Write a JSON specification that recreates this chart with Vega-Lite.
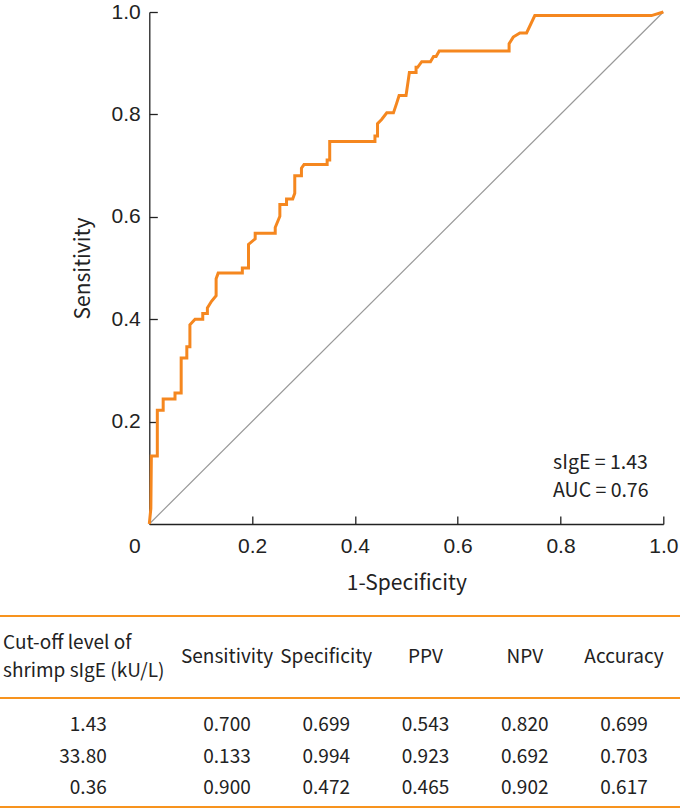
{
  "$schema": "https://vega.github.io/schema/vega-lite/v6.json",
  "width": 514,
  "height": 512,
  "autosize": "none",
  "padding": {"left": 149.3, "top": 12, "right": 16.7, "bottom": 286},
  "config": {"view": {"stroke": null}, "font": "Noto Sans CJK KR"},
  "datasets": {
    "roc": [
      {"k": 0, "fpr": 0.0, "tpr": 0.0},
      {"k": 1, "fpr": 0.003, "tpr": 0.03},
      {"k": 2, "fpr": 0.004, "tpr": 0.133},
      {"k": 3, "fpr": 0.0156, "tpr": 0.133},
      {"k": 4, "fpr": 0.0156, "tpr": 0.222},
      {"k": 5, "fpr": 0.027, "tpr": 0.222},
      {"k": 6, "fpr": 0.027, "tpr": 0.244},
      {"k": 7, "fpr": 0.05, "tpr": 0.244},
      {"k": 8, "fpr": 0.05, "tpr": 0.256},
      {"k": 9, "fpr": 0.062, "tpr": 0.256},
      {"k": 10, "fpr": 0.062, "tpr": 0.324},
      {"k": 11, "fpr": 0.073, "tpr": 0.324},
      {"k": 12, "fpr": 0.073, "tpr": 0.346},
      {"k": 13, "fpr": 0.079, "tpr": 0.346},
      {"k": 14, "fpr": 0.079, "tpr": 0.389},
      {"k": 15, "fpr": 0.089, "tpr": 0.4},
      {"k": 16, "fpr": 0.104, "tpr": 0.4},
      {"k": 17, "fpr": 0.104, "tpr": 0.411},
      {"k": 18, "fpr": 0.113, "tpr": 0.411},
      {"k": 19, "fpr": 0.113, "tpr": 0.422},
      {"k": 20, "fpr": 0.121, "tpr": 0.435},
      {"k": 21, "fpr": 0.13, "tpr": 0.446},
      {"k": 22, "fpr": 0.13, "tpr": 0.479},
      {"k": 23, "fpr": 0.134, "tpr": 0.49},
      {"k": 24, "fpr": 0.181, "tpr": 0.49},
      {"k": 25, "fpr": 0.181, "tpr": 0.5},
      {"k": 26, "fpr": 0.193, "tpr": 0.5},
      {"k": 27, "fpr": 0.193, "tpr": 0.546},
      {"k": 28, "fpr": 0.206, "tpr": 0.557},
      {"k": 29, "fpr": 0.206, "tpr": 0.568},
      {"k": 30, "fpr": 0.245, "tpr": 0.568},
      {"k": 31, "fpr": 0.245, "tpr": 0.579},
      {"k": 32, "fpr": 0.254, "tpr": 0.601},
      {"k": 33, "fpr": 0.254, "tpr": 0.624},
      {"k": 34, "fpr": 0.267, "tpr": 0.624},
      {"k": 35, "fpr": 0.267, "tpr": 0.635},
      {"k": 36, "fpr": 0.279, "tpr": 0.635},
      {"k": 37, "fpr": 0.283, "tpr": 0.646},
      {"k": 38, "fpr": 0.283, "tpr": 0.68},
      {"k": 39, "fpr": 0.296, "tpr": 0.68},
      {"k": 40, "fpr": 0.296, "tpr": 0.695},
      {"k": 41, "fpr": 0.301, "tpr": 0.702},
      {"k": 42, "fpr": 0.346, "tpr": 0.702},
      {"k": 43, "fpr": 0.346, "tpr": 0.711},
      {"k": 44, "fpr": 0.351, "tpr": 0.711},
      {"k": 45, "fpr": 0.351, "tpr": 0.747},
      {"k": 46, "fpr": 0.439, "tpr": 0.747},
      {"k": 47, "fpr": 0.439, "tpr": 0.758},
      {"k": 48, "fpr": 0.444, "tpr": 0.758},
      {"k": 49, "fpr": 0.444, "tpr": 0.782},
      {"k": 50, "fpr": 0.452, "tpr": 0.79},
      {"k": 51, "fpr": 0.462, "tpr": 0.803},
      {"k": 52, "fpr": 0.475, "tpr": 0.803},
      {"k": 53, "fpr": 0.481, "tpr": 0.821},
      {"k": 54, "fpr": 0.486, "tpr": 0.837},
      {"k": 55, "fpr": 0.4995, "tpr": 0.837},
      {"k": 56, "fpr": 0.506, "tpr": 0.882},
      {"k": 57, "fpr": 0.519, "tpr": 0.882},
      {"k": 58, "fpr": 0.519, "tpr": 0.892},
      {"k": 59, "fpr": 0.522, "tpr": 0.892},
      {"k": 60, "fpr": 0.53, "tpr": 0.903},
      {"k": 61, "fpr": 0.547, "tpr": 0.903},
      {"k": 62, "fpr": 0.553, "tpr": 0.913},
      {"k": 63, "fpr": 0.558, "tpr": 0.913},
      {"k": 64, "fpr": 0.564, "tpr": 0.924},
      {"k": 65, "fpr": 0.7, "tpr": 0.924},
      {"k": 66, "fpr": 0.7, "tpr": 0.938},
      {"k": 67, "fpr": 0.708, "tpr": 0.951},
      {"k": 68, "fpr": 0.721, "tpr": 0.959},
      {"k": 69, "fpr": 0.734, "tpr": 0.959},
      {"k": 70, "fpr": 0.75, "tpr": 0.993},
      {"k": 71, "fpr": 0.977, "tpr": 0.993},
      {"k": 72, "fpr": 1.0, "tpr": 1.0}
    ],
    "notes": [
      {"fpr": 0.7855, "tpr": 0.12, "label": "sIgE = 1.43"},
      {"fpr": 0.7855, "tpr": 0.065, "label": "AUC = 0.76"}
    ],
    "headers": [
      {"col": 0, "label": "Cut-off level of\nshrimp sIgE (kU/L)"},
      {"col": 1, "label": "Sensitivity"},
      {"col": 2, "label": "Specificity"},
      {"col": 3, "label": "PPV"},
      {"col": 4, "label": "NPV"},
      {"col": 5, "label": "Accuracy"}
    ],
    "cells": [
      {"row": 1, "col": 0, "label": "1.43"},
      {"row": 1, "col": 1, "label": "0.700"},
      {"row": 1, "col": 2, "label": "0.699"},
      {"row": 1, "col": 3, "label": "0.543"},
      {"row": 1, "col": 4, "label": "0.820"},
      {"row": 1, "col": 5, "label": "0.699"},
      {"row": 2, "col": 0, "label": "33.80"},
      {"row": 2, "col": 1, "label": "0.133"},
      {"row": 2, "col": 2, "label": "0.994"},
      {"row": 2, "col": 3, "label": "0.923"},
      {"row": 2, "col": 4, "label": "0.692"},
      {"row": 2, "col": 5, "label": "0.703"},
      {"row": 3, "col": 0, "label": "0.36"},
      {"row": 3, "col": 1, "label": "0.900"},
      {"row": 3, "col": 2, "label": "0.472"},
      {"row": 3, "col": 3, "label": "0.465"},
      {"row": 3, "col": 4, "label": "0.902"},
      {"row": 3, "col": 5, "label": "0.617"}
    ]
  },
  "layer": [
    {
      "layer": [
        {
          "data": {"values": [{}]},
          "mark": {"type": "rule", "color": "#999999", "strokeWidth": 1.2},
          "encoding": {
            "x": {"datum": 0, "type": "quantitative"}, "y": {"datum": 0, "type": "quantitative"},
            "x2": {"datum": 1}, "y2": {"datum": 1}
          }
        },
        {
          "data": {"name": "roc"},
          "mark": {"type": "line", "color": "#F5871F", "strokeWidth": 3, "strokeJoin": "miter"},
          "encoding": {
            "x": {
              "field": "fpr", "type": "quantitative",
              "scale": {"domain": [0, 1], "nice": false, "zero": false},
              "axis": {
                "title": "1-Specificity",
                "values": [0, 0.2, 0.4, 0.6, 0.8, 1],
                "labelExpr": "datum.value == 0 ? '0' : format(datum.value, '.1f')",
                "grid": false,
                "domainColor": "#222222", "domainWidth": 1.3,
                "tickColor": "#222222", "tickWidth": 1.3, "tickSize": -8,
                "labelFont": "Liberation Sans", "labelFontSize": 21, "labelColor": "#222222",
                "labelPadding": 19,
                "labelOffset": {"condition": {"test": "datum.value === 0", "value": -15}, "value": 0},
                "labelFlush": false,
                "titleFont": "Noto Sans CJK KR", "titleFontSize": 21, "titleFontWeight": "normal",
                "titleColor": "#222222", "titlePadding": 16
              }
            },
            "y": {
              "field": "tpr", "type": "quantitative",
              "scale": {"domain": [0, 1], "nice": false, "zero": false},
              "axis": {
                "title": "Sensitivity",
                "values": [0.2, 0.4, 0.6, 0.8, 1],
                "format": ".1f",
                "grid": false,
                "domainColor": "#222222", "domainWidth": 1.3,
                "tickColor": "#222222", "tickWidth": 1.3, "tickSize": -8,
                "labelFont": "Liberation Sans", "labelFontSize": 21, "labelColor": "#222222",
                "labelPadding": 17,
                "labelFlush": false,
                "titleFont": "Noto Sans CJK KR", "titleFontSize": 21, "titleFontWeight": "normal",
                "titleColor": "#222222", "titlePadding": 18
              }
            },
            "order": {"field": "k", "type": "quantitative"}
          }
        },
        {
          "data": {"name": "notes"},
          "mark": {"type": "text", "align": "left", "baseline": "middle", "font": "Noto Sans CJK KR", "fontSize": 19.5, "color": "#222222"},
          "encoding": {
            "x": {"field": "fpr", "type": "quantitative"},
            "y": {"field": "tpr", "type": "quantitative"},
            "text": {"field": "label"}
          }
        }
      ]
    },
    {
      "layer": [
        {
          "data": {"values": [{}]},
          "mark": {"type": "rule", "color": "#F7931E", "strokeWidth": 2},
          "encoding": {
            "x": {"datum": -1.6, "type": "quantitative", "scale": {"domain": [0, 5], "range": [-21.55, 474.7]}, "axis": null},
            "x2": {"datum": 5.7},
            "y": {"datum": -2.46, "type": "quantitative", "scale": {"domain": [1, 3], "range": [713, 776]}, "axis": null}
          }
        },
        {
          "data": {"values": [{}]},
          "mark": {"type": "rule", "color": "#F7931E", "strokeWidth": 2},
          "encoding": {
            "x": {"datum": -1.6, "type": "quantitative"},
            "x2": {"datum": 5.7},
            "y": {"datum": 0.143, "type": "quantitative"}
          }
        },
        {
          "data": {"values": [{}]},
          "mark": {"type": "rule", "color": "#F7931E", "strokeWidth": 2},
          "encoding": {
            "x": {"datum": -1.6, "type": "quantitative"},
            "x2": {"datum": 5.7},
            "y": {"datum": 3.603, "type": "quantitative"}
          }
        },
        {
          "data": {"name": "headers"},
          "transform": [{"filter": "datum.col == 0"}],
          "mark": {"type": "text", "align": "left", "baseline": "middle", "dx": -124.75, "dy": -14, "lineBreak": "\n", "lineHeight": 28, "font": "Noto Sans CJK KR", "fontSize": 19, "color": "#222222"},
          "encoding": {
            "x": {"field": "col", "type": "quantitative"},
            "y": {"datum": -1.16, "type": "quantitative"},
            "text": {"field": "label"}
          }
        },
        {
          "data": {"name": "headers"},
          "transform": [{"filter": "datum.col > 0"}],
          "mark": {"type": "text", "align": "center", "baseline": "middle", "font": "Noto Sans CJK KR", "fontSize": 19, "color": "#222222"},
          "encoding": {
            "x": {"field": "col", "type": "quantitative"},
            "y": {"datum": -1.16, "type": "quantitative"},
            "text": {"field": "label"}
          }
        },
        {
          "data": {"name": "cells"},
          "transform": [{"filter": "datum.col == 0"}],
          "mark": {"type": "text", "align": "right", "baseline": "middle", "dx": -21, "font": "Noto Sans CJK KR", "fontSize": 19, "color": "#222222"},
          "encoding": {
            "x": {"field": "col", "type": "quantitative"},
            "y": {"field": "row", "type": "quantitative"},
            "text": {"field": "label"}
          }
        },
        {
          "data": {"name": "cells"},
          "transform": [{"filter": "datum.col > 0"}],
          "mark": {"type": "text", "align": "center", "baseline": "middle", "font": "Noto Sans CJK KR", "fontSize": 19, "color": "#222222"},
          "encoding": {
            "x": {"field": "col", "type": "quantitative"},
            "y": {"field": "row", "type": "quantitative"},
            "text": {"field": "label"}
          }
        }
      ]
    }
  ],
  "resolve": {"scale": {"x": "independent", "y": "independent"}}
}
